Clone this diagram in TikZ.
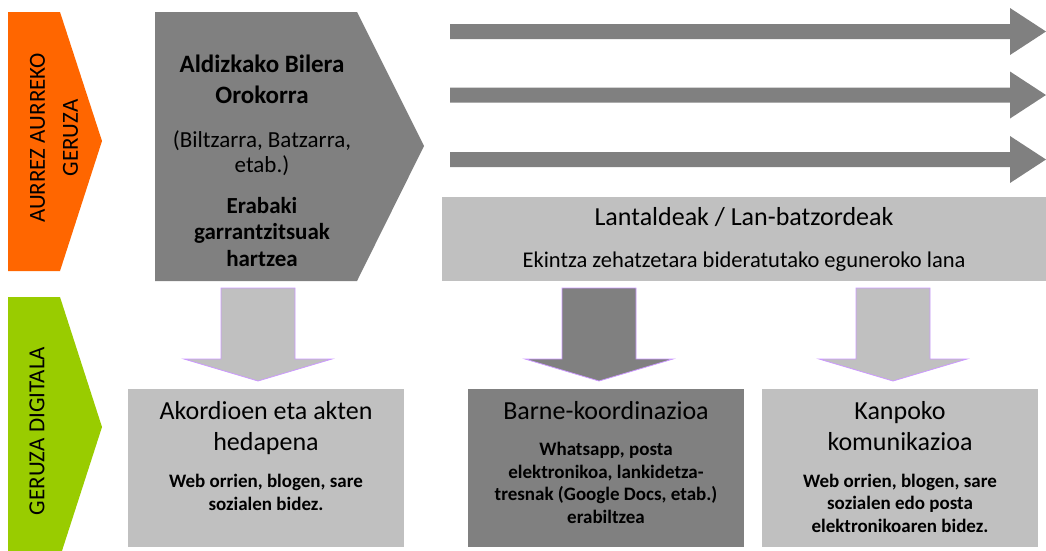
\documentclass[tikz,border=0pt]{standalone}
\usepackage{fontspec}
\setmainfont{Carlito}
\usetikzlibrary{positioning}
\definecolor{darkgrey}{HTML}{808080}
\definecolor{lightgrey}{HTML}{C0C0C0}
\definecolor{layerorange}{HTML}{FF6600}
\definecolor{layergreen}{HTML}{99CC00}
\definecolor{arrowrim}{HTML}{CC99FF}
\tikzset{
	headline/.style={%
		align=center, inner sep=0pt, anchor=base,
		font=\fontsize{26}{31}\selectfont
	},
	remark/.style={%
		align=center, inner sep=0pt, anchor=base,
		font=\bfseries\fontsize{19}{22.5}\selectfont
	},
	layer/.style={%
		rotate=90, align=center, inner sep=0pt,
		font=\fontsize{23}{33}\selectfont
	},
	panel/.style={%
		inner sep=0pt,
		minimum width=#1,
		minimum height=158pt
	},
	panel/.default=276pt
}

\begin{document}
\begin{tikzpicture}[x=1pt,y=-1pt]
		\useasboundingbox (0,0) rectangle (1046,550);
		\clip (0,0) rectangle (1046,550);
		
		% layer chevrons on the left
		\fill[layerorange] (8,12) -- (60,12) -- (102,141) -- (60,271) -- (8,271) -- cycle;
		\fill[layergreen] (8,297) -- (60,297) -- (102,427) -- (60,557) -- (8,557) -- cycle;
		\node[layer] (aurrez) at (54,138) {AURREZ AURREKO\\GERUZA};
		\node[layer] (digitala) at (37,431) {GERUZA DIGITALA};
		
		% general meeting chevron (anchors sit on the last line)
		\fill[darkgrey] (155,12) -- (357,12) -- (424,146) -- (357,281) -- (155,281) -- cycle;
		\node[headline,font=\bfseries\fontsize{25}{31}\selectfont] (bilera) at (262,103) {Aldizkako Bilera\\Orokorra};
		\node[headline,font=\fontsize{23}{25}\selectfont] (biltzarra) at (262,172) {(Biltzarra, Batzarra,\\etab.)};
		\node[headline,font=\bfseries\fontsize{23}{26.5}\selectfont] (erabaki) at (262,266) {Erabaki\\garrantzitsuak\\hartzea};
		
		% horizontal arrows
		\foreach \ya in {31.5,95,159.5}
			\fill[darkgrey] (450,\ya-7.5) -- (1010,\ya-7.5) -- (1010,\ya-23.5) -- (1046,\ya)
				-- (1010,\ya+23.5) -- (1010,\ya+7.5) -- (450,\ya+7.5) -- cycle;
		
		% working groups
		\node[panel=604pt,minimum height=84pt,fill=lightgrey] (lantaldeak) at (744,239) {};
		\node[headline] (lantitle) at (744,225) {Lantaldeak / Lan-batzordeak};
		\node[headline,font=\fontsize{22.5}{24}\selectfont] (ekintza) at (744,267) {Ekintza zehatzetara bideratutako eguneroko lana};
		
		% down arrows
		\foreach \xa/\col in {258/lightgrey,599/darkgrey,893/lightgrey}
			\filldraw[fill=\col,draw=arrowrim,line width=0.8pt] (\xa-37,288) -- (\xa+37,288) -- (\xa+37,359)
				-- (\xa+74,359) -- (\xa,381) -- (\xa-74,359) -- (\xa-37,359) -- cycle;
		
		% digital layer boxes
		\node[panel,fill=lightgrey] (akordioak) at (266,468) {};
		\node[panel,fill=darkgrey] (barne) at (606,468) {};
		\node[panel,fill=lightgrey] (kanpoko) at (900,468) {};
		
		\node[headline] (akordtitle) at (266,450) {Akordioen eta akten\\hedapena};
		\node[remark] (akordtext) at (266,510) {Web orrien, blogen, sare\\sozialen bidez.};
		
		\node[headline] (barnetitle) at (606,419) {Barne-koordinazioa};
		\node[remark] (barnetext) at (606,523) {Whatsapp, posta\\elektronikoa, lankidetza-\\tresnak (Google Docs, etab.)\\erabiltzea};
		
		\node[headline] (kanptitle) at (900,450) {Kanpoko\\komunikazioa};
		\node[remark] (kanptext) at (900,532) {Web orrien, blogen, sare\\sozialen edo posta\\elektronikoaren bidez.};
		
\end{tikzpicture}
\end{document}
